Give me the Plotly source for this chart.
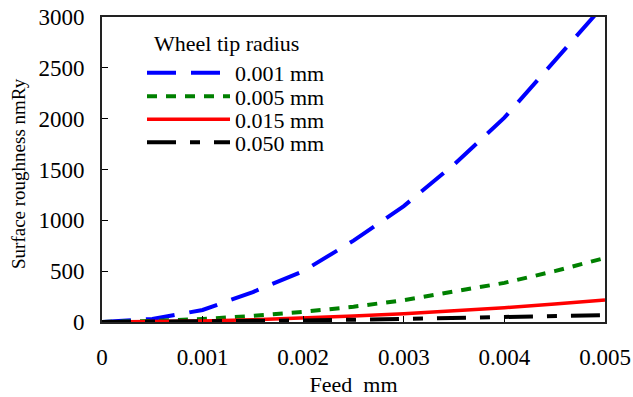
import plotly.graph_objects as go

feed = [0, 0.0005, 0.001, 0.0015, 0.002, 0.0025, 0.003, 0.0035, 0.004, 0.0045, 0.005]
r_0001 = [0, 30, 118, 295, 500, 800, 1140, 1550, 2010, 2560, 3130]
r_0005 = [0, 10, 30, 60, 100, 150, 215, 300, 385, 500, 630]
r_0015 = [0, 3, 10, 22, 38, 58, 82, 110, 140, 176, 216]
r_0050 = [0, 2, 5, 9, 15, 22, 30, 38, 46, 56, 68]
series_names = ["0.001 mm", "0.005 mm", "0.015 mm", "0.050 mm"]
x_tickvals = [0, 0.001, 0.002, 0.003, 0.004, 0.005]
x_ticktext = ["0", "0.001", "0.002", "0.003", "0.004", "0.005"]
y_tickvals = [0, 500, 1000, 1500, 2000, 2500, 3000]

FONT = "Liberation Serif, Times New Roman, serif"
FS = 22

styles = [
    dict(color="#0000ff", width=4, dash="29px,15px"),
    dict(color="#008000", width=4, dash="10px,9px"),
    dict(color="#ff0000", width=3.5, dash="solid"),
    dict(color="#000000", width=4, dash="29px,14px,10px,14px"),
]
values = [r_0001, r_0005, r_0015, r_0050]
legend_ids = ["legend", "legend2", "legend3", "legend4"]

fig = go.Figure()
for name, vals, st, lg in zip(series_names, values, styles, legend_ids):
    fig.add_trace(go.Scatter(x=feed, y=vals, mode="lines", name=name,
                             line=st, legend=lg, showlegend=True))

W, H = 633, 397
ml, mr, mt, mb = 102, 28, 17, 75
pw, ph = W - ml - mr, H - mt - mb

def px_to_paper(x, y):
    return (x - ml) / pw, 1 - (y - mt) / ph

leg_common = dict(bgcolor="rgba(0,0,0,0)", borderwidth=0, itemwidth=83,
                  font=dict(family=FONT, size=22, color="black"),
                  xanchor="left", yanchor="middle", itemclick=False,
                  visible=True)
entry_y = [73, 96.5, 119.5, 142.5]
layout_legs = {}
for lg, ey in zip(legend_ids, entry_y):
    px_, py_ = px_to_paper(142, ey)
    layout_legs[lg] = dict(leg_common, x=px_, y=py_)

fig.update_layout(
    width=W, height=H,
    showlegend=True,
    margin=dict(l=ml, r=mr, t=mt, b=mb, autoexpand=False),
    paper_bgcolor="white", plot_bgcolor="white",
    font=dict(family=FONT, size=FS, color="black"),
    xaxis=dict(range=[0, 0.005], tickvals=x_tickvals, ticktext=x_ticktext,
               ticks="inside", ticklen=6, tickcolor="black", showgrid=False,
               zeroline=False, showline=True, linecolor="#222", linewidth=2,
               mirror=True, ticklabelstandoff=13, automargin=False,
               tickfont=dict(family=FONT, size=23),
               title=dict(text="Feed  mm", standoff=8,
                          font=dict(family=FONT, size=22))),
    yaxis=dict(range=[0, 3000], tickvals=y_tickvals,
               ticks="inside", ticklen=6, tickcolor="black", showgrid=False,
               zeroline=False, showline=True, linecolor="#222", linewidth=2,
               mirror=True, ticklabelstandoff=11, automargin=False,
               tickfont=dict(family=FONT, size=23)),
    **layout_legs,
)
fig.add_annotation(text="Wheel tip radius", xref="paper", yref="paper",
                   x=px_to_paper(152, 43)[0], y=px_to_paper(152, 43)[1],
                   xanchor="left", yanchor="middle", showarrow=False,
                   font=dict(family=FONT, size=22, color="black"))
fig.add_annotation(text="Surface roughness nmRy", xref="paper", yref="paper",
                   x=px_to_paper(18, 174)[0], y=px_to_paper(18, 174)[1],
                   xanchor="center", yanchor="middle", textangle=-90,
                   showarrow=False,
                   font=dict(family=FONT, size=19, color="black"))
fig.write_html("out.html")
